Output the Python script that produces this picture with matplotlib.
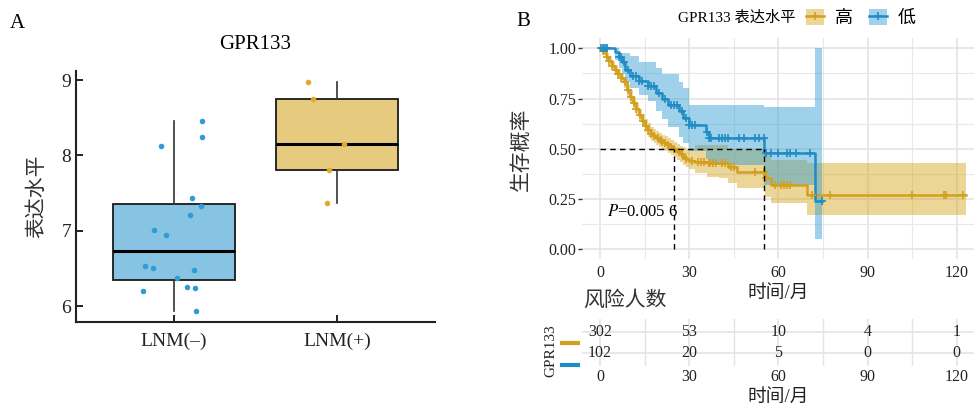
import numpy as np
import matplotlib
matplotlib.use('Agg')
import matplotlib.pyplot as plt
from matplotlib.patches import Patch
from matplotlib.lines import Line2D

plt.rcParams['font.family'] = ['Liberation Serif', 'Noto Sans CJK SC']
plt.rcParams['mathtext.fontset'] = 'stix'
plt.rcParams['axes.unicode_minus'] = False

# ---- panel A: expression by LNM status ----
groups = ['LNM(–)', 'LNM(+)']
expr_neg = [8.12, 8.46, 8.24, 7.43, 7.33, 7.21, 7.01, 6.94, 6.535, 6.50,
            6.48, 6.38, 6.25, 6.24, 6.20, 5.94]
jit_neg = [-0.078, 0.172, 0.174, 0.109, 0.164, 0.096, -0.125, -0.049, -0.178, -0.129,
           0.123, 0.018, 0.078, 0.129, -0.192, 0.133]
expr_pos = [8.97, 8.75, 8.15, 7.81, 7.37]
jit_pos = [-0.18, -0.147, 0.045, -0.049, -0.061]

# ---- panel B: KM curves (high / low expression) ----
t_hi = [0, 1, 2, 3, 4, 5, 6, 7, 8, 9, 10, 11, 12, 13, 14, 15, 16, 17, 18, 19,
        20, 21, 22, 23, 24, 25, 26, 27, 28, 29, 30, 32, 36, 40, 43, 46, 55.5, 57.5, 69.5]
s_hi = [1.0, 0.985, 0.955, 0.935, 0.91, 0.89, 0.87, 0.85, 0.83, 0.79,
        0.76, 0.73, 0.70, 0.67, 0.64, 0.615, 0.595, 0.575, 0.565, 0.555,
        0.545, 0.535, 0.53, 0.52, 0.51, 0.50, 0.485, 0.475, 0.46, 0.45,
        0.44, 0.435, 0.43, 0.428, 0.41, 0.386, 0.353, 0.32, 0.27]
up_hi = [1.0, 1.0, 0.975, 0.96, 0.935, 0.915, 0.895, 0.875, 0.855, 0.82,
         0.79, 0.76, 0.73, 0.70, 0.675, 0.65, 0.63, 0.61, 0.60, 0.59,
         0.58, 0.57, 0.565, 0.555, 0.545, 0.535, 0.525, 0.515, 0.51, 0.50,
         0.495, 0.52, 0.52, 0.52, 0.50, 0.50, 0.47, 0.445, 0.43]
lo_hi = [1.0, 0.97, 0.935, 0.91, 0.885, 0.865, 0.845, 0.825, 0.80, 0.76,
         0.73, 0.70, 0.67, 0.64, 0.61, 0.585, 0.56, 0.54, 0.53, 0.52,
         0.51, 0.50, 0.49, 0.48, 0.47, 0.46, 0.445, 0.435, 0.42, 0.41,
         0.40, 0.38, 0.36, 0.355, 0.33, 0.305, 0.26, 0.23, 0.17]
end_hi = 123
cens_hi = [1, 1.5, 2.5, 3, 4, 5.5, 6, 7, 8.5, 9.5, 10.5, 11.5, 12, 13.5, 14.5, 15.5,
           16, 17, 18, 19.5, 20.5, 21, 22, 23, 24, 25, 26.5, 27.5, 29, 31, 33, 34,
           35, 36.5, 37, 38, 39, 41, 42, 44, 45, 52, 55, 56, 59, 61, 62, 63, 64,
           71.2, 77.4, 104.8, 115.7, 116.3, 122]

t_lo = [0, 5, 6.5, 7.5, 8.5, 10, 13, 16, 19, 21, 23, 26.5, 28, 30, 35.5, 36.5, 55.3, 72.3]
s_lo = [1.0, 0.98, 0.955, 0.93, 0.894, 0.86, 0.836, 0.81, 0.778, 0.75,
        0.72, 0.69, 0.655, 0.62, 0.585, 0.552, 0.478, 0.239]
up_lo = [1.0, 1.0, 0.975, 0.975, 0.975, 0.96, 0.93, 0.93, 0.90, 0.87,
         0.87, 0.83, 0.80, 0.72, 0.72, 0.72, 0.706, 1.0]
lo_lo = [1.0, 0.94, 0.90, 0.87, 0.83, 0.80, 0.77, 0.74, 0.69, 0.65,
         0.61, 0.56, 0.53, 0.49, 0.45, 0.42, 0.32, 0.05]
end_lo = 74.6
cens_lo = [0.5, 1, 1.5, 2, 2.5, 6.5, 7, 8, 9.5, 11, 12, 13, 14, 16, 17, 18, 20, 22,
           24, 25, 26, 27.5, 29, 30, 31, 32, 36, 36.8, 37.5, 40, 41, 42, 43, 46.8,
           48.5, 52, 53.5, 55, 56, 57.5, 60, 62.8, 64, 66, 70.6, 74.6]

risk_times = [0, 30, 60, 90, 120]
risk_hi = [302, 53, 10, 4, 1]
risk_lo = [102, 20, 5, 0, 0]
p_text = r'$\it{P}$=0.005 6'

# colours
c_hi, c_lo = '#D3A01E', '#1F8CC4'
band_hi, band_lo = '#D3A519', '#2D9BD1'
box_neg, box_pos = '#87C3E2', '#E6CB7E'
dot_neg, dot_pos = '#2F9BD7', '#E2A92B'

W, H = 974, 407
fig = plt.figure(figsize=(W / 100, H / 100), dpi=100)


def fx(px):
    return px / W


def fy(py):
    return 1 - py / H


# ================= panel A =================
axA = fig.add_axes([fx(76), fy(322), fx(359), 251 / H])
bp = axA.boxplot([expr_neg, expr_pos], positions=[1, 2], widths=0.75, whis=(0, 100),
                 patch_artist=True, showfliers=False,
                 medianprops=dict(color='black', lw=2.2),
                 boxprops=dict(color='#1a1a1a', lw=1.3),
                 whiskerprops=dict(color='#333333', lw=1.2),
                 capprops=dict(lw=0))
for patch, col in zip(bp['boxes'], [box_neg, box_pos]):
    patch.set_facecolor(col)
axA.scatter(1 + np.array(jit_neg), expr_neg, s=16, color=dot_neg, zorder=5, lw=0)
axA.scatter(2 + np.array(jit_pos), expr_pos, s=16, color=dot_pos, zorder=5, lw=0)
axA.set_xlim(0.4, 2.6)
axA.set_ylim(5.79, 9.12)
axA.set_yticks([6, 7, 8, 9])
axA.set_xticks([1, 2])
axA.set_xticklabels(groups)
for s in ['top', 'right']:
    axA.spines[s].set_visible(False)
for s in ['left', 'bottom']:
    axA.spines[s].set_linewidth(1.5)
    axA.spines[s].set_color('#222222')
axA.tick_params(direction='in', length=5, width=1.4, labelsize=14, colors='#222222')
axA.tick_params(axis='x', pad=8)
axA.set_title('GPR133', fontsize=15, pad=16)
axA.set_ylabel('表达水平', fontsize=15, labelpad=10, color='#333333')
fig.text(fx(17), fy(23), 'A', fontsize=15, ha='center', va='center')

# ================= panel B: KM =================
xl = (-6.15, 125.8)
axB = fig.add_axes([fx(581.7), fy(259.4), fx(974 - 581.7), 221.2 / H])
axB.set_xlim(*xl)
axB.set_ylim(-0.05, 1.05)


def stepfun(tt, ss, q):
    idx = np.searchsorted(tt, q, side='right') - 1
    return np.array(ss)[idx]


for tt, ss, up, lo, tend, cens, lc, bc in [
        (t_hi, s_hi, up_hi, lo_hi, end_hi, cens_hi, c_hi, band_hi),
        (t_lo, s_lo, up_lo, lo_lo, end_lo, cens_lo, c_lo, band_lo)]:
    tx = list(tt) + [tend]
    axB.fill_between(tx, list(lo) + [lo[-1]], list(up) + [up[-1]], step='post',
                     color=bc, alpha=0.45, lw=0, zorder=2)
    axB.step(tx, list(ss) + [ss[-1]], where='post', color=lc, lw=1.8, zorder=3)
    axB.plot(cens, stepfun(tt, ss, cens), ls='none', marker='+', ms=6, mew=1.2,
             color=lc, zorder=4)

# median lines
med_hi = t_hi[np.argmax(np.array(s_hi) <= 0.5)]
med_lo = t_lo[np.argmax(np.array(s_lo) <= 0.5)]
dash = dict(color='black', lw=1.0, ls=(0, (4, 3)), zorder=6)
axB.plot([0, max(med_hi, med_lo)], [0.5, 0.5], **dash)
axB.plot([med_hi, med_hi], [0, 0.5], **dash)
axB.plot([med_lo, med_lo], [0, 0.5], **dash)
axB.text(2.2, 0.187, p_text, fontsize=12, va='center', ha='left', zorder=7)

axB.set_xticks(risk_times)
axB.set_xticks([15, 45, 75, 105], minor=True)
axB.set_yticks([0, 0.25, 0.5, 0.75, 1.0])
axB.set_yticklabels(['0.00', '0.25', '0.50', '0.75', '1.00'])
axB.set_yticks([0.125, 0.375, 0.625, 0.875], minor=True)
axB.grid(which='major', color='#E2E2E2', lw=1.1, zorder=0)
axB.grid(which='minor', color='#E8E8E8', lw=0.8, zorder=0)
axB.set_axisbelow(True)
for s in axB.spines.values():
    s.set_visible(False)
axB.tick_params(axis='y', which='major', length=3, width=1, colors='#333333',
                labelsize=11.5, pad=1, labelcolor='#222222')
axB.tick_params(axis='x', which='major', length=0, labelsize=11.5, pad=4,
                labelcolor='#222222')
axB.tick_params(which='minor', length=0)
axB.set_xlabel('时间/月', fontsize=13.5, labelpad=3, color='#222222')
axB.set_ylabel('生存概率', fontsize=15, labelpad=12, color='#333333')
fig.text(fx(523), fy(22), 'B', fontsize=15, ha='center', va='center')

# legend
fig.text(fx(678), fy(18), 'GPR133 表达水平', fontsize=11, ha='left', va='center')
handles = [(Patch(facecolor=band_hi, alpha=0.45, lw=0),
            Line2D([], [], color=c_hi, marker='+', ms=6, mew=1.2, lw=1.8)),
           (Patch(facecolor=band_lo, alpha=0.45, lw=0),
            Line2D([], [], color=c_lo, marker='+', ms=6, mew=1.2, lw=1.8))]
fig.legend(handles, ['高', '低'], loc='center left', bbox_to_anchor=(fx(806), fy(18)),
           ncol=2, frameon=False, fontsize=13, handlelength=1.0, handleheight=1.0,
           handletextpad=0.6, columnspacing=0.9, borderpad=0, borderaxespad=0)

# ================= risk table =================
axT = fig.add_axes([fx(581.7), fy(366), fx(974 - 581.7), 47 / H])
axT.set_xlim(*xl)
axT.set_ylim(0.4, 2.6)
for y, vals in [(2, risk_hi), (1, risk_lo)]:
    for t, v in zip(risk_times, vals):
        axT.text(t, y, str(v), ha='center', va='center', fontsize=11.5, color='#222222')
axT.set_xticks(risk_times)
axT.set_xticks([15, 45, 75, 105], minor=True)
axT.set_yticks([1, 2])
axT.set_yticklabels([])
axT.grid(which='major', color='#E2E2E2', lw=1.1)
axT.grid(which='minor', axis='x', color='#E4E4E4', lw=1.0)
axT.set_axisbelow(True)
for s in axT.spines.values():
    s.set_visible(False)
axT.tick_params(length=0, labelsize=11.5, pad=2, labelcolor='#222222')
axT.tick_params(which='minor', length=0)
axT.set_xlabel('时间/月', fontsize=13.5, labelpad=3, color='#222222')
fig.text(fx(583), fy(301), '风险人数', fontsize=15, ha='left', va='center', color='#333333')
fig.text(fx(551), fy(351), 'GPR133', fontsize=11, rotation=90, ha='center', va='center',
         color='#222222')
fig.add_artist(Line2D([fx(562), fx(578)], [fy(342.7)] * 2, color=c_hi, lw=3))
fig.add_artist(Line2D([fx(562), fx(578)], [fy(365)] * 2, color=c_lo, lw=3))

fig.savefig('out.png', dpi=100)
